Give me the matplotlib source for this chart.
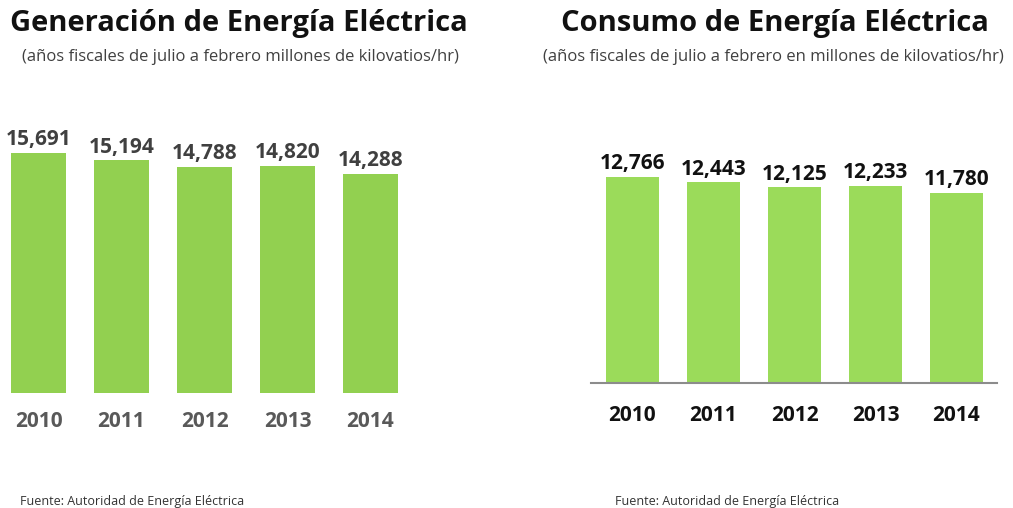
import matplotlib
matplotlib.use('Agg')
import matplotlib.pyplot as plt

# Data
years = ['2010', '2011', '2012', '2013', '2014']
generacion = [15691, 15194, 14788, 14820, 14288]
consumo = [12766, 12443, 12125, 12233, 11780]

plt.rcParams['font.family'] = ['Open Sans', 'DejaVu Sans']

W, H = 1013, 508
fig = plt.figure(figsize=(W / 100, H / 100), dpi=100)


def px_axes(left, top, right, bottom):
    # axes box given in pixel coordinates (origin top-left)
    return fig.add_axes([left / W, (H - bottom) / H, (right - left) / W, (bottom - top) / H])


# Left chart: generation
ax1 = px_axes(0, 100, 420, 393)
x = range(len(years))
ax1.bar(x, generacion, width=0.66, color='#92D050')
ax1.set_xlim(-38.5 / 83, (420 - 38.5) / 83)
ax1.set_ylim(0, 293 * 65.3)
for i, v in enumerate(generacion):
    ax1.annotate(f'{v:,}', (i, v), xytext=(0, 2), textcoords='offset points',
                 ha='center', va='bottom', fontsize=15, fontweight='bold', color='#404040')
ax1.set_xticks(list(x))
ax1.set_xticklabels(years, fontsize=15, fontweight='bold', color='#595959')
ax1.tick_params(axis='x', length=0, pad=13)
ax1.set_yticks([])
for s in ax1.spines.values():
    s.set_visible(False)

# Right chart: consumption
ax2 = px_axes(591, 100, 997, 383)
ax2.bar(x, consumo, width=0.65, color='#9BDB5A')
ax2.set_xlim(-0.512, 4.5)
ax2.set_ylim(0, 283 * 62)
for i, v in enumerate(consumo):
    ax2.annotate(f'{v:,}', (i, v), xytext=(0, 2), textcoords='offset points',
                 ha='center', va='bottom', fontsize=15, fontweight='bold', color='#111111')
ax2.set_xticks(list(x))
ax2.set_xticklabels(years, fontsize=15, fontweight='bold', color='#111111')
ax2.tick_params(axis='x', length=0, pad=16)
ax2.set_yticks([])
for k, s in ax2.spines.items():
    if k == 'bottom':
        s.set_color('#8c8c8c')
        s.set_linewidth(1.5)
    else:
        s.set_visible(False)

# Titles and notes
fig.text(10 / W, 1 - 24 / H, 'Generación de Energía Eléctrica', fontsize=21, fontweight='bold',
         color='#111111', ha='left', va='center')
fig.text(240 / W, 1 - 57 / H, '(años fiscales de julio a febrero millones de kilovatios/hr)',
         fontsize=12, color='#404040', ha='center', va='center')
fig.text(775 / W, 1 - 24 / H, 'Consumo de Energía Eléctrica', fontsize=21, fontweight='bold',
         color='#111111', ha='center', va='center')
fig.text(773 / W, 1 - 57 / H, '(años fiscales de julio a febrero en millones de kilovatios/hr)',
         fontsize=12, color='#404040', ha='center', va='center')
fig.text(20 / W, 1 - 502 / H, 'Fuente: Autoridad de Energía Eléctrica', fontsize=9,
         color='#333333', ha='left', va='center')
fig.text(615 / W, 1 - 502 / H, 'Fuente: Autoridad de Energía Eléctrica', fontsize=9,
         color='#333333', ha='left', va='center')

fig.savefig('out.png', dpi=100)
